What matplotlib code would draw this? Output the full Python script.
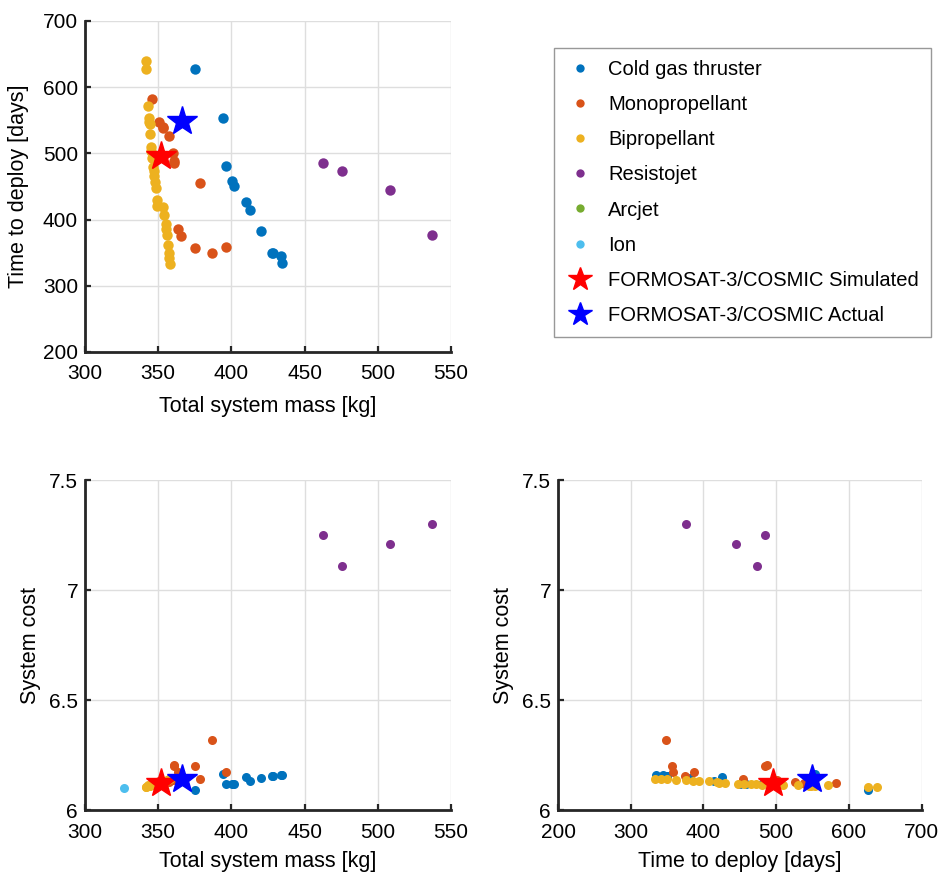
import matplotlib.pyplot as plt
from matplotlib.ticker import FormatStrFormatter, MultipleLocator

plt.rcParams['font.family'] = ['Liberation Sans', 'DejaVu Sans']

# cold gas thruster designs
cold_mass = [375.2, 394.6, 396.4, 400.3, 401.6, 409.8, 412.4, 419.9, 427.4, 428.5, 434.0, 434.5]
cold_days = [627, 554, 481, 459, 450, 426, 415, 382, 350, 350, 345, 335]
cold_cost = [6.092, 6.162, 6.117, 6.12, 6.12, 6.15, 6.133, 6.144, 6.155, 6.155, 6.158, 6.158]

# monopropellant designs
mono_mass = [346.0, 350.8, 353.1, 353.6, 357.7, 360.0, 360.8, 361.0, 378.9, 363.8, 365.9, 375.0, 387.0, 396.0]
mono_days = [582, 548, 540, 538, 526, 501, 488, 485, 454.5, 386.5, 375, 357, 349, 358]
mono_cost = [6.121, 6.13, 6.12, 6.123, 6.126, 6.136, 6.205, 6.2, 6.141, 6.171, 6.155, 6.2, 6.317, 6.171]

# bipropellant designs
bi_mass = [341.7, 341.7, 343.3, 343.8, 344.0, 344.2, 344.7, 345.1, 345.4, 346.0, 346.5, 347.0, 347.4,
           347.9, 348.3, 349.0, 349.5, 353.1, 354.0, 355.0, 355.4, 356.0, 356.8, 357.2, 357.7, 358.3]
bi_days = [639, 627, 572, 553, 548, 545, 530, 509, 503, 493, 480, 473, 466,
           456, 448, 430, 421, 419, 407, 394, 386, 376, 362, 350, 342, 333]
bi_cost = [6.103, 6.106, 6.112, 6.109, 6.11, 6.111, 6.113, 6.114, 6.114, 6.115, 6.116, 6.117, 6.117,
           6.118, 6.12, 6.122, 6.125, 6.127, 6.13, 6.133, 6.133, 6.135, 6.138, 6.14, 6.14, 6.141]

# resistojet designs
res_mass = [462.5, 475.7, 508.5, 537.0]
res_days = [485, 474, 445, 376]
res_cost = [7.25, 7.11, 7.21, 7.30]

# arcjet (none feasible)
arc_mass = []
arc_days = []
arc_cost = []

# ion (deploy time off the plotted range)
ion_mass = [326.4]
ion_days = [1220]
ion_cost = [6.10]

# FORMOSAT-3/COSMIC reference
sim_mass, sim_days, sim_cost = [352.0], [496], [6.124]
act_mass, act_days, act_cost = [366.3], [549], [6.142]

groups = [
    ('Cold gas thruster', '#0072BD', cold_mass, cold_days, cold_cost),
    ('Monopropellant', '#D95319', mono_mass, mono_days, mono_cost),
    ('Bipropellant', '#EDB120', bi_mass, bi_days, bi_cost),
    ('Resistojet', '#7E2F8E', res_mass, res_days, res_cost),
    ('Arcjet', '#77AC30', arc_mass, arc_days, arc_cost),
    ('Ion', '#4DBEEE', ion_mass, ion_days, ion_cost),
]

fig = plt.figure(figsize=(9.41, 8.74), dpi=100)
ax1 = fig.add_axes([0.0903, 0.5973, 0.389, 0.3787])
ax2 = fig.add_axes([0.0903, 0.0732, 0.389, 0.3776])
ax3 = fig.add_axes([0.593, 0.0732, 0.3863, 0.3776])


def style(ax):
    ax.grid(True, color='#dedede', linewidth=1.0)
    ax.set_axisbelow(True)
    for s in ['top', 'right']:
        ax.spines[s].set_visible(False)
    for s in ['left', 'bottom']:
        ax.spines[s].set_linewidth(2.0)
        ax.spines[s].set_color('#262626')
    ax.tick_params(direction='in', length=4, width=1.6, labelsize=15, colors='#262626',
                   labelcolor='black')
    ax.tick_params(axis='x', pad=9)
    ax.tick_params(axis='y', pad=5)


for name, col, m, d, c in groups:
    ax1.plot(m, d, 'o', color=col, ms=7.5, mec='none', label=name)
    ax2.plot(m, c, 'o', color=col, ms=6.5, mec='none')
    ax3.plot(d, c, 'o', color=col, ms=6.5, mec='none')

ax1.plot(sim_mass, sim_days, '*', color='red', ms=22, mec='red', label='FORMOSAT-3/COSMIC Simulated')
ax1.plot(act_mass, act_days, '*', color='blue', ms=22, mec='blue', label='FORMOSAT-3/COSMIC Actual')
ax2.plot(sim_mass, sim_cost, '*', color='red', ms=22, mec='red')
ax2.plot(act_mass, act_cost, '*', color='blue', ms=22, mec='blue')
ax3.plot(sim_days, sim_cost, '*', color='red', ms=22, mec='red')
ax3.plot(act_days, act_cost, '*', color='blue', ms=22, mec='blue')

ax1.set_xlim(300, 550)
ax1.set_ylim(200, 700)
ax1.xaxis.set_major_locator(MultipleLocator(50))
ax1.yaxis.set_major_locator(MultipleLocator(100))
ax1.set_xlabel('Total system mass [kg]', fontsize=15.5, labelpad=9)
ax1.set_ylabel('Time to deploy [days]', fontsize=15.5, labelpad=10)

ax2.set_xlim(300, 550)
ax2.set_ylim(6, 7.5)
ax2.xaxis.set_major_locator(MultipleLocator(50))
ax2.yaxis.set_major_locator(MultipleLocator(0.5))
ax2.yaxis.set_major_formatter(FormatStrFormatter('%g'))
ax2.set_xlabel('Total system mass [kg]', fontsize=15.5, labelpad=7)
ax2.set_ylabel('System cost', fontsize=15.5, labelpad=6)

ax3.set_xlim(200, 700)
ax3.set_ylim(6, 7.5)
ax3.xaxis.set_major_locator(MultipleLocator(100))
ax3.yaxis.set_major_locator(MultipleLocator(0.5))
ax3.yaxis.set_major_formatter(FormatStrFormatter('%g'))
ax3.set_xlabel('Time to deploy [days]', fontsize=15.5, labelpad=7)
ax3.set_ylabel('System cost', fontsize=15.5, labelpad=6)

for ax in (ax1, ax2, ax3):
    style(ax)

h, l = ax1.get_legend_handles_labels()
leg = fig.legend(h, l, loc='upper left', bbox_to_anchor=(554 / 941, 1 - 48 / 874),
                 fontsize=14.5, frameon=True, fancybox=False, edgecolor='#7f7f7f',
                 labelspacing=0.80, handlelength=1.4, handletextpad=0.7, borderpad=0.6,
                 borderaxespad=0, markerscale=0.8)
leg.get_frame().set_linewidth(1.0)
for hd in leg.legend_handles[:6]:
    hd.set_markersize(6)

fig.savefig('out.png', dpi=100)
